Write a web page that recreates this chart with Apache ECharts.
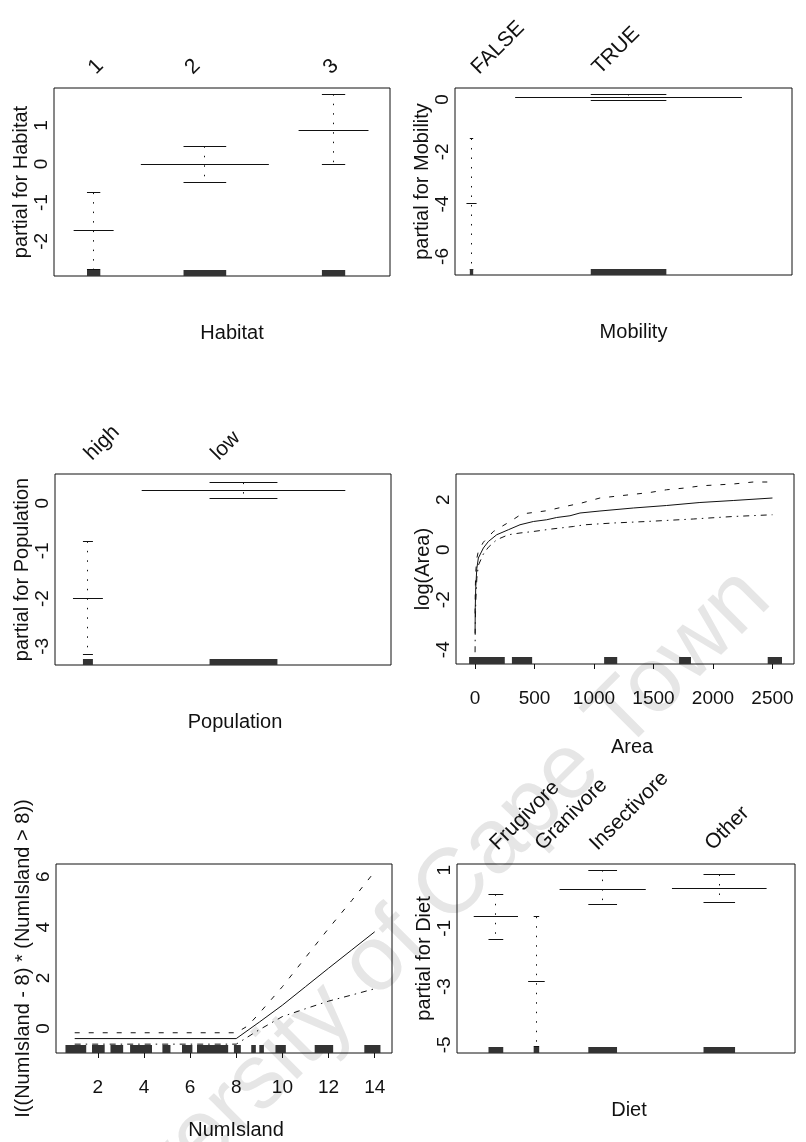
<!DOCTYPE html>
<html>
<head>
<meta charset="utf-8">
<script src="https://cdn.jsdelivr.net/npm/echarts@6/dist/echarts.min.js"></script>
<style>
html, body { margin: 0; padding: 0; background: #fff; }
#chart { width: 806px; height: 1142px; }
</style>
</head>
<body>
<div id="chart"></div>
<script>
// Habitat (factor)
const habitatLevels = ['1', '2', '3']
const habitatX = [11.8, 44.9, 83.2]
const habitatWidth = [11.9, 38.1, 20.8]
const habitatFit = [-1.73, 0, 0.87]
const habitatUpper = [-0.74, 0.46, 1.81]
const habitatLower = [-2.72, -0.48, 0.0]
const habitatTicks = [-2, -1, 0, 1]

// Mobility (factor)
const mobilityLevels = ['FALSE', 'TRUE']
const mobilityX = [4.9, 51.5]
const mobilityWidth = [3.0, 67.3]
const mobilityFit = [-3.99, 0.06]
const mobilityUpper = [-1.49, 0.21]
const mobilityLower = [-6.5, -0.03]
const mobilityTicks = [-6, -4, -2, 0]

// Population (factor)
const populationLevels = ['high', 'low']
const populationX = [9.8, 56.1]
const populationWidth = [8.9, 60.6]
const populationFit = [-1.99, 0.27]
const populationUpper = [-0.8, 0.43]
const populationLower = [-3.18, 0.1]
const populationTicks = [-3, -2, -1, 0]

// Area (smooth term)
const areaFit = [[0.3, -3.35], [2, -2.3], [6, -1.5], [15, -0.75], [28, -0.33], [70, 0.07], [112, 0.33],
  [182, 0.6], [280, 0.8], [378, 1.0], [490, 1.13], [602, 1.2], [686, 1.29], [798, 1.36], [882, 1.47],
  [1050, 1.55], [1330, 1.67], [1610, 1.77], [1890, 1.89], [2170, 1.97], [2500, 2.07]]
const areaUpper = [[0.3, -2.55], [2, -1.6], [6, -0.9], [15, -0.35], [28, -0.05], [70, 0.3], [154, 0.73],
  [308, 1.17], [392, 1.43], [602, 1.56], [756, 1.73], [896, 1.87], [1050, 2.07], [1470, 2.29],
  [1610, 2.4], [1764, 2.47], [1905, 2.56], [2170, 2.63], [2338, 2.71], [2500, 2.71]]
const areaLower = [[0.3, -4.1], [2, -3.0], [6, -2.1], [15, -1.15], [28, -0.62], [70, -0.17], [112, 0.1],
  [182, 0.4], [280, 0.6], [378, 0.67], [490, 0.73], [644, 0.83], [826, 0.93], [924, 1.0], [1162, 1.07],
  [1442, 1.13], [1834, 1.23], [2170, 1.33], [2500, 1.4]]
const areaRug = [[-50, 250], [310, 480], [1085, 1195], [1715, 1815], [2460, 2580]]
const areaXTicks = [0, 500, 1000, 1500, 2000, 2500]
const areaYTicks = [-4, -2, 0, 2]

// NumIsland (hinge term)
const numFit = [[1, -0.4], [8, -0.4], [9, 0.25], [10, 0.92], [11, 1.65], [12, 2.38], [13, 3.1], [14, 3.82]]
const numUpper = [[1, -0.17], [8, -0.17], [8.5, 0.1], [9, 0.6], [10, 1.65], [11, 2.8], [12, 3.95], [13, 5.05], [14, 6.2]]
const numLower = [[1, -0.62], [8, -0.62], [9, -0.05], [10, 0.47], [11, 0.78], [12, 1.08], [13, 1.32], [14, 1.57]]
const numRug = [[0.6, 1.5], [1.75, 2.3], [2.55, 3.1], [3.4, 4.35], [4.8, 5.15], [5.65, 6.1], [6.3, 7.65],
  [7.9, 8.2], [8.65, 8.85], [9.0, 9.2], [9.7, 10.15], [11.4, 12.2], [13.55, 14.25]]
const numXTicks = [2, 4, 6, 8, 10, 12, 14]
const numYTicks = [0, 2, 4, 6]

// Diet (factor)
const dietLevels = ['Frugivore', 'Granivore', 'Insectivore', 'Other']
const dietX = [11.5, 23.5, 43.1, 77.6]
const dietWidth = [13.1, 4.9, 25.5, 28.0]
const dietFit = [-0.6, -2.83, 0.35, 0.37]
const dietUpper = [0.17, -0.6, 1.0, 0.85]
const dietLower = [-1.38, -5.06, -0.18, -0.12]
const dietTicks = [-5, -3, -1, 1]

const FONT = 'Liberation Sans'
const ink = '#111'
const text = size => ({ fontFamily: FONT, fontSize: size, color: ink })
const plain = { axisLine: { show: false, onZero: false }, axisTick: { show: false }, splitLine: { show: false } }
const crisp = v => Math.round(v - 0.5) + 0.5

const grids = [
  { left: 54, top: 88, width: 336, height: 188 },
  { left: 455, top: 88, width: 337, height: 187 },
  { left: 55, top: 474, width: 336, height: 191 },
  { left: 456, top: 474, width: 338, height: 190 },
  { left: 56, top: 864, width: 336, height: 189 },
  { left: 457, top: 864, width: 338, height: 189 }
].map(g => ({ ...g, show: true, borderColor: ink, borderWidth: 1, backgroundColor: 'transparent' }))

const xAxes = [], yAxes = [], series = []

const nearest = (arr, v) => {
  let best = 0
  arr.forEach((a, i) => { if (Math.abs(a - v) < Math.abs(arr[best] - v)) best = i })
  return best
}

const yAxisOf = (gi, name, min, max, ticks) => ({
  gridIndex: gi, type: 'value', min, max, ...plain,
  name, nameLocation: 'middle', nameGap: 14, nameTextStyle: text(20),
  axisLabel: { customValues: ticks, rotate: 90, margin: 3, ...text(19) }
})

const hline = (api, x0, x1, y) => {
  const a = api.coord([x0, y]), b = api.coord([x1, y])
  const yy = crisp(a[1])
  return { type: 'line', shape: { x1: a[0], y1: yy, x2: b[0], y2: yy }, style: { stroke: ink, lineWidth: 1 } }
}

const factorItem = yMin => (params, api) => {
  const c = api.value(0), w = api.value(1)
  const fit = api.value(2), up = api.value(3), lo = api.value(4)
  const r = w / 6
  const t = api.coord([c, up]), b = api.coord([c, lo])
  const r0 = api.coord([c - r, yMin]), r1 = api.coord([c + r, yMin])
  return {
    type: 'group',
    children: [
      hline(api, c - w / 2, c + w / 2, fit),
      hline(api, c - r, c + r, up),
      hline(api, c - r, c + r, lo),
      { type: 'line', shape: { x1: crisp(t[0]), y1: t[1], x2: crisp(t[0]), y2: b[1] },
        style: { stroke: ink, lineWidth: 1, lineDash: [1.5, 8] } },
      { type: 'rect', shape: { x: r0[0], y: r0[1] - 6, width: Math.max(r1[0] - r0[0], 2.5), height: 6 },
        style: { fill: '#333' } }
    ]
  }
}

const rugItem = (yMin, h) => (params, api) => {
  const a = api.coord([api.value(0), yMin]), b = api.coord([api.value(1), yMin])
  return { type: 'rect', shape: { x: a[0], y: a[1] - h, width: b[0] - a[0], height: h }, style: { fill: '#333' } }
}

// level labels start a little right of the rug's left edge, as in the original
const labelNudge = 1.5

function addFactorPanel(gi, xName, yName, yMin, yMax, yTicks, levels, xs, widths, fit, upper, lower, shift) {
  const anchors = xs.map((c, i) => c - widths[i] / 6 + labelNudge)
  const xi = xAxes.length
  xAxes.push({
    gridIndex: gi, type: 'value', position: 'top', min: 0, max: 100, ...plain,
    // a top axis flips the sign of rotate, so -45 gives text rising to the right
    axisLabel: { customValues: anchors, rotate: -45, margin: 17, ...text(21),
      formatter: v => levels[nearest(anchors, v)] }
  })
  xAxes.push({
    gridIndex: gi, type: 'value', position: 'bottom', min: 0, max: 100, ...plain,
    axisLabel: { show: false },
    name: xName, nameLocation: 'middle', nameGap: 47,
    nameTextStyle: { ...text(20), padding: [0, 0, 0, shift * 2] }
  })
  const yi = yAxes.length
  yAxes.push(yAxisOf(gi, yName, yMin, yMax, yTicks))
  series.push({
    type: 'custom', xAxisIndex: xi, yAxisIndex: yi, silent: true,
    renderItem: factorItem(yMin),
    data: xs.map((c, i) => [c, widths[i], fit[i], upper[i], lower[i]])
  })
}

function addCurvePanel(gi, xName, yName, xMin, xMax, xTicks, yMin, yMax, yTicks, fit, upper, lower, rug, rugH, gap, shift) {
  const xi = xAxes.length
  xAxes.push({
    gridIndex: gi, type: 'value', position: 'bottom', min: xMin, max: xMax,
    axisLine: { show: false, onZero: false }, splitLine: { show: false },
    axisTick: { show: true, customValues: xTicks, length: 5, lineStyle: { color: ink } },
    axisLabel: { customValues: xTicks, margin: 25, ...text(19), formatter: v => String(v) },
    name: xName, nameLocation: 'middle', nameGap: gap,
    nameTextStyle: { ...text(20), padding: [0, 0, 0, shift * 2] }
  })
  const yi = yAxes.length
  yAxes.push(yAxisOf(gi, yName, yMin, yMax, yTicks))
  const line = (data, dash) => ({
    type: 'line', xAxisIndex: xi, yAxisIndex: yi, data, showSymbol: false, symbol: 'none', silent: true,
    lineStyle: { color: ink, width: 1, type: dash }
  })
  series.push(line(fit, 'solid'), line(upper, [5, 9]), line(lower, [6, 5, 1.5, 5]))
  series.push({ type: 'custom', xAxisIndex: xi, yAxisIndex: yi, silent: true, renderItem: rugItem(yMin, rugH), data: rug })
}

addFactorPanel(0, 'Habitat', 'partial for Habitat', -2.9, 1.97, habitatTicks,
  habitatLevels, habitatX, habitatWidth, habitatFit, habitatUpper, habitatLower, 10)
addFactorPanel(1, 'Mobility', 'partial for Mobility', -6.71, 0.44, mobilityTicks,
  mobilityLevels, mobilityX, mobilityWidth, mobilityFit, mobilityUpper, mobilityLower, 10)
addFactorPanel(2, 'Population', 'partial for Population', -3.39, 0.61, populationTicks,
  populationLevels, populationX, populationWidth, populationFit, populationUpper, populationLower, 12)
addCurvePanel(3, 'Area', 'log(Area)', -160, 2681, areaXTicks, -4.57, 3.03, areaYTicks,
  areaFit, areaUpper, areaLower, areaRug, 7, 73, 7)
addCurvePanel(4, 'NumIsland', 'I((NumIsland - 8) * (NumIsland > 8))', 0.19, 14.75, numXTicks, -0.97, 6.5, numYTicks,
  numFit, numUpper, numLower, numRug, 8, 67, 12)
addFactorPanel(5, 'Diet', 'partial for Diet', -5.28, 1.21, dietTicks,
  dietLevels, dietX, dietWidth, dietFit, dietUpper, dietLower, 3)

const chart = echarts.init(document.getElementById('chart'))
chart.setOption({
  animation: false,
  backgroundColor: '#fff',
  graphic: [{
    type: 'text', x: 405, y: 935, rotation: Math.PI / 4, z: -10, silent: true,
    style: { text: 'University of Cape Town', font: '92px "Liberation Sans"', fill: '#e6e6e6',
      align: 'center', verticalAlign: 'middle' }
  }],
  grid: grids,
  xAxis: xAxes,
  yAxis: yAxes,
  series
})
</script>
</body>
</html>
